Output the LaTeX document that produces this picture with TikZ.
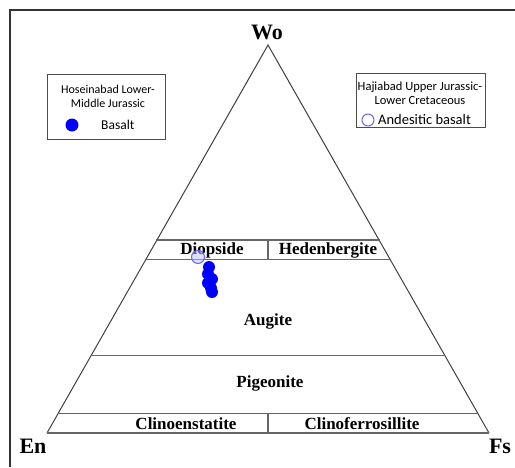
\documentclass[tikz,border=0pt]{standalone}
\usepackage{fontspec}
\setmainfont{Liberation Serif}
\newfontfamily\legfont{Carlito}
\begin{document}
\begin{tikzpicture}[x=1pt,y=-1pt,
  edge/.style={draw=black!75, line width=1pt},
  band/.style={draw=black!60, line width=1.1pt},
  field/.style={font=\fontsize{17}{17}\selectfont\bfseries, inner sep=0pt},
  corner/.style={font=\fontsize{22}{22}\selectfont\bfseries, inner sep=0pt},
  legbox/.style={draw=black!70, line width=1pt, fill=white},
  legtext/.style={font=\legfont\fontsize{12}{14}\selectfont, inner sep=0pt, align=center},
  bdot/.style={circle, fill=blue, inner sep=0pt, minimum size=12pt},
  odot/.style={circle, draw=blue!60!white, line width=1pt, fill=blue!25, fill opacity=0.5, inner sep=0pt, minimum size=13pt}
]
\useasboundingbox (0,0) rectangle (515,467);
\fill[white] (0,0) rectangle (515,467);
% frame
\draw[black!80, line width=1.2pt] (10,467) -- (10,10) -- (515,10);
% triangle
\coordinate (wo) at (268,45);
\coordinate (en) at (47,433);
\coordinate (fs) at (489,433);
\draw[edge] (en) -- (wo) -- (fs);
\draw[band] (en) -- (fs);
% horizontal bands
\draw[band] (156.3,240) -- (379.7,240);
\draw[band] (145.2,259.5) -- (390.8,259.5);
\draw[band] (91.2,355.4) -- (444.8,355.4);
\draw[band] (58,413.6) -- (478,413.6);
\draw[band] (268,240) -- (268,259.5);
\draw[band] (268,413.6) -- (268,433);
% labels
\node[corner] (lwo) at (267,32) {Wo};
\node[corner] (len) at (33,446) {En};
\node[corner] (lfs) at (500,446) {Fs};
\node[field] (diop) at (212,250) {Diopside};
\node[field] (hed) at (328,250) {Hedenbergite};
\node[field] (aug) at (268,321) {Augite};
\node[field] (pig) at (270,383) {Pigeonite};
\node[field] (cen) at (186,424) {Clinoenstatite};
\node[field] (cfs) at (362,424) {Clinoferrosillite};
% data points
\node[odot] (o1) at (198,257) {};
\node[bdot] (p1) at (209,267) {};
\node[bdot] (p2) at (208,274) {};
\node[bdot] (p3) at (212,279) {};
\node[bdot] (p4) at (208,283) {};
\node[bdot] (p5) at (211,288) {};
\node[bdot] (p6) at (212,292) {};
% legend 1
\draw[legbox] (47,74) rectangle (165,139);
\node[legtext] (l1t) at (108,96) {Hoseinabad Lower-\\Middle Jurassic};
\node[bdot, minimum size=13pt] (l1d) at (72,125) {};
\node[legtext, font=\legfont\fontsize{13.5}{14}\selectfont, anchor=west] (l1b) at (101,125) {Basalt};
% legend 2
\draw[legbox] (356,73) rectangle (485,127);
\node[legtext, font=\legfont\fontsize{12.5}{14}\selectfont] (l2t) at (420,93) {Hajiabad Upper Jurassic-\\Lower Cretaceous};
\node[circle, draw=blue!60!white, line width=1pt, inner sep=0pt, minimum size=12pt] (l2d) at (368,120) {};
\node[legtext, font=\legfont\fontsize{14.5}{14}\selectfont, anchor=west] (l2b) at (378,120) {Andesitic basalt};
\end{tikzpicture}
\end{document}
